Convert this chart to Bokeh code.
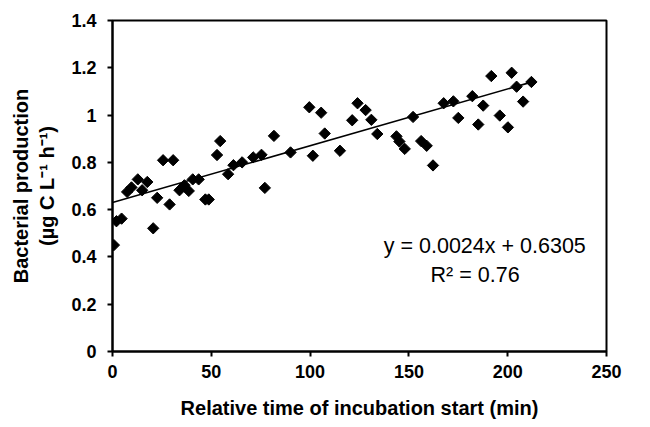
import numpy as np
from bokeh.plotting import figure
from bokeh.models import Range1d, FixedTicker, Label
from bokeh.embed import file_html
from bokeh.resources import INLINE

# Data
time_min = [0.7, 2.0, 4.6, 7.4, 9.6, 12.8, 15.0, 17.6, 20.6, 22.6, 25.6, 28.9, 30.7,
            33.9, 36.4, 38.6, 40.6, 43.6, 47.0, 48.7, 52.9, 54.5, 58.5, 61.2, 65.6,
            71.2, 75.4, 77.1, 81.7, 90.1, 99.6, 101.4, 105.6, 107.4, 115.1, 121.3,
            124.0, 128.1, 131.0, 134.0, 143.7, 145.2, 147.9, 152.1, 156.2, 159.0,
            162.2, 167.6, 172.5, 175.0, 182.1, 185.1, 187.6, 191.7, 196.0, 200.1,
            202.0, 204.5, 207.8, 212.0]
production = [0.45, 0.551, 0.562, 0.675, 0.694, 0.728, 0.682, 0.717, 0.521, 0.65, 0.809,
              0.622, 0.809, 0.682, 0.703, 0.679, 0.728, 0.728, 0.643, 0.643, 0.831, 0.89,
              0.75, 0.788, 0.80, 0.821, 0.832, 0.692, 0.912, 0.842, 1.033, 0.828, 1.01,
              0.922, 0.849, 0.978, 1.05, 1.021, 0.98, 0.92, 0.91, 0.888, 0.857, 0.992,
              0.89, 0.87, 0.787, 1.05, 1.058, 0.988, 1.08, 0.96, 1.04, 1.165, 0.998,
              0.948, 1.179, 1.12, 1.057, 1.14]

slope = 0.0024
intercept = 0.6305
r_squared = 0.76

x_ticks = [0, 50, 100, 150, 200, 250]
y_ticks = [0, 0.2, 0.4, 0.6, 0.8, 1.0, 1.2, 1.4]
y_tick_labels = {0: "0", 0.2: "0.2", 0.4: "0.4", 0.6: "0.6", 0.8: "0.8", 1.0: "1", 1.2: "1.2", 1.4: "1.4"}

FONT = "Liberation Sans"

p = figure(width=650, height=427, x_range=Range1d(0, 250), y_range=Range1d(0, 1.4),
           output_backend="svg", toolbar_location=None,
           min_border_left=112, min_border_right=44, min_border_top=20, min_border_bottom=76)

p.grid.visible = False
p.outline_line_color = "black"
p.outline_line_width = 2
p.background_fill_color = "white"
p.border_fill_color = "white"

for ax in (p.xaxis[0], p.yaxis[0]):
    ax.axis_line_color = "black"
    ax.axis_line_width = 2
    ax.major_tick_line_color = "black"
    ax.major_tick_line_width = 2
    ax.major_tick_in = 0
    ax.major_tick_out = 5
    ax.minor_tick_line_color = None
    ax.major_label_text_font = FONT
    ax.major_label_text_font_style = "bold"
    ax.major_label_text_font_size = "18px"
    ax.major_label_text_color = "black"
    ax.axis_label_text_font = FONT
    ax.axis_label_text_font_style = "bold"
    ax.axis_label_text_font_size = "20px"
    ax.axis_label_text_color = "black"

p.xaxis[0].ticker = FixedTicker(ticks=x_ticks)
p.yaxis[0].ticker = FixedTicker(ticks=y_ticks)
p.yaxis[0].major_label_overrides = y_tick_labels
p.xaxis[0].major_label_standoff = 8
p.yaxis[0].major_label_standoff = 11
p.xaxis[0].axis_label = "Relative time of incubation start (min)"
p.yaxis[0].axis_label = "Bacterial production\n(\u00b5g C L\u207b\u00b9 h\u207b\u00b9)"
p.xaxis[0].axis_label_standoff = 16
p.yaxis[0].axis_label_standoff = 10

# trend line over the data range
x_line = np.array([0.0, max(time_min)])
y_line = slope * x_line + intercept
p.line(x_line, y_line, line_color="black", line_width=1.6)

p.scatter(time_min, production, marker="square", size=8, angle=np.pi / 4,
          fill_color="black", line_color="black")

p.add_layout(Label(x=188.4, y=0.448, text="y = %.4fx + %.4f" % (slope, intercept),
                   text_align="center", text_baseline="middle", text_font=FONT,
                   text_font_size="21.5px", text_color="black"))
p.add_layout(Label(x=183.5, y=0.323, text="R\u00b2 = %.2f" % r_squared,
                   text_align="center", text_baseline="middle", text_font=FONT,
                   text_font_size="21.5px", text_color="black"))

open("out.html", "w").write(file_html(p, INLINE))
